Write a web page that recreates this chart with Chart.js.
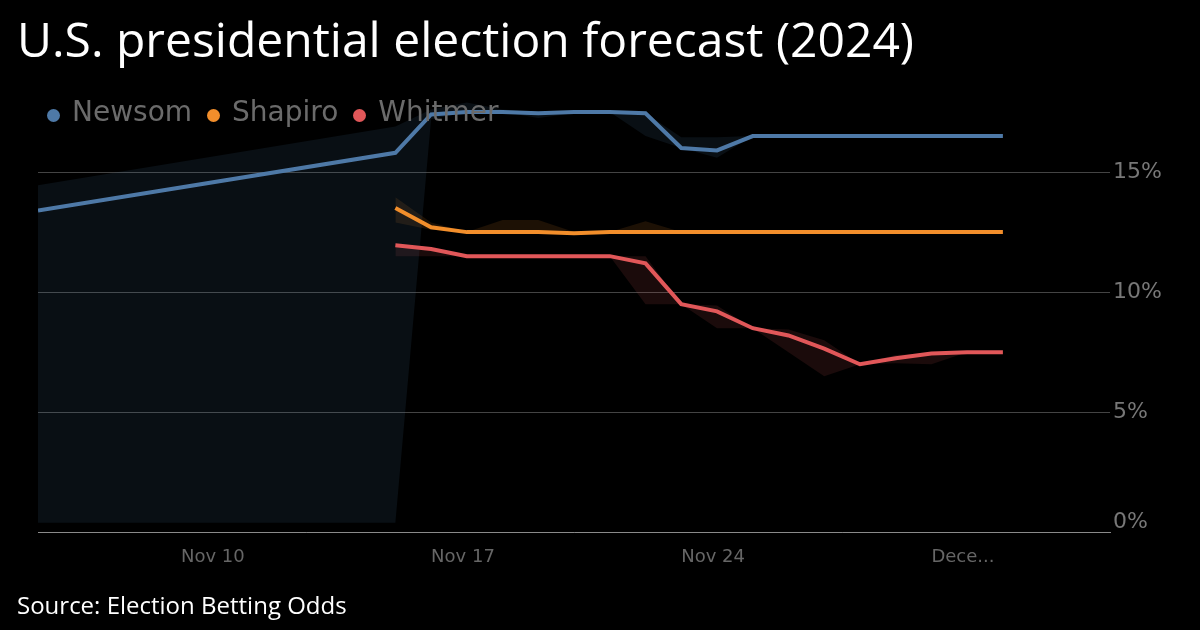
<!DOCTYPE html>
<html>
<head>
<meta charset="utf-8">
<script src="https://cdn.jsdelivr.net/npm/chart.js@4.4.1/dist/chart.umd.min.js"></script>
<style>
  html, body { margin: 0; padding: 0; background: #000; }
  body { width: 1200px; height: 630px; position: relative; overflow: hidden; }
  #chart-wrap { position: absolute; left: 0; top: 0; width: 1200px; height: 630px; }
  .title {
    position: absolute; left: 17px; top: 15px; margin: 0;
    font: 400 48px/1 "Open Sans", "Noto Sans", sans-serif; color: #fff; white-space: nowrap;
  }
  .source {
    position: absolute; left: 17px; top: 593px;
    font: 400 24px/1 "Open Sans", "Noto Sans", sans-serif; color: #fff; white-space: nowrap;
  }
  .legend {
    position: absolute; left: 47px; top: 98px; display: flex; gap: 15px;
    font: 400 28px/1 "DejaVu Sans", sans-serif; color: #6b6b6b; white-space: nowrap;
  }
  .legend__item { display: flex; align-items: center; }
  .legend__dot { width: 13px; height: 13px; border-radius: 50%; margin-right: 12px; position: relative; top: 3px; }
</style>
</head>
<body>
<div id="chart-wrap"><canvas id="chart" width="1200" height="630"></canvas></div>
<h1 class="title">U.S. presidential election forecast (2024)</h1>
<div class="legend" id="legend"></div>
<div class="source">Source: Election Betting Odds</div>
<script>
// x values are days counted from Nov 1 (Dec 1 = 31)
const NEWSOM_DAYS = [6, 16, 17, 18, 19, 20, 21, 22, 23, 24, 25, 26, 27, 28, 29, 30, 31, 32, 33];
const NEWSOM = [13.4, 15.8, 17.4, 17.5, 17.5, 17.45, 17.5, 17.5, 17.45, 16.0, 15.9, 16.5, 16.5, 16.5, 16.5, 16.5, 16.5, 16.5, 16.5];
const NEWSOM_HIGH = [14.45, 16.9, 17.6, 17.9, 17.6, 17.5, 17.5, 17.5, 17.45, 16.45, 16.45, 16.5, 16.5, 16.5, 16.5, 16.5, 16.5, 16.5, 16.5];
const NEWSOM_LOW = [0.4, 0.4, 17.2, 17.5, 17.5, 17.25, 17.45, 17.5, 16.5, 16.0, 15.6, 16.5, 16.5, 16.5, 16.5, 16.5, 16.5, 16.5, 16.5];

const OTHER_DAYS = [16, 17, 18, 19, 20, 21, 22, 23, 24, 25, 26, 27, 28, 29, 30, 31, 32, 33];
const SHAPIRO = [13.5, 12.7, 12.5, 12.5, 12.5, 12.45, 12.5, 12.5, 12.5, 12.5, 12.5, 12.5, 12.5, 12.5, 12.5, 12.5, 12.5, 12.5];
const SHAPIRO_HIGH = [13.95, 12.9, 12.5, 13.0, 13.0, 12.5, 12.5, 12.95, 12.5, 12.5, 12.5, 12.5, 12.5, 12.5, 12.5, 12.5, 12.5, 12.5];
const SHAPIRO_LOW = [12.9, 12.6, 12.5, 12.5, 12.5, 12.4, 12.45, 12.5, 12.5, 12.5, 12.5, 12.5, 12.5, 12.5, 12.5, 12.5, 12.5, 12.5];
const WHITMER = [11.95, 11.8, 11.5, 11.5, 11.5, 11.5, 11.5, 11.2, 9.5, 9.2, 8.5, 8.2, 7.65, 7.0, 7.25, 7.45, 7.5, 7.5];
const WHITMER_HIGH = [11.95, 11.8, 11.5, 11.5, 11.5, 11.5, 11.5, 11.5, 9.5, 9.45, 8.5, 8.45, 8.0, 7.0, 7.38, 7.46, 7.5, 7.5];
const WHITMER_LOW = [11.5, 11.5, 11.5, 11.5, 11.5, 11.45, 11.5, 9.5, 9.5, 8.5, 8.5, 7.5, 6.5, 7.0, 7.04, 7.0, 7.5, 7.5];

const X_TICKS = [10, 17, 24, 31];
const X_TICK_LABELS = ["Nov 10", "Nov 17", "Nov 24", "Dece..."];
const Y_TICKS = [0, 5, 10, 15];

const SERIES = [
  { name: "Newsom", color: "#4e79a7", band: "rgba(78, 121, 167, 0.12)", days: NEWSOM_DAYS, mid: NEWSOM, high: NEWSOM_HIGH, low: NEWSOM_LOW },
  { name: "Shapiro", color: "#f28e2b", band: "rgba(242, 142, 43, 0.12)", days: OTHER_DAYS, mid: SHAPIRO, high: SHAPIRO_HIGH, low: SHAPIRO_LOW },
  { name: "Whitmer", color: "#e15759", band: "rgba(225, 87, 89, 0.12)", days: OTHER_DAYS, mid: WHITMER, high: WHITMER_HIGH, low: WHITMER_LOW },
];

const points = (days, vals) => days.map((d, i) => ({ x: d, y: vals[i] }));

function buildDatasets() {
  const lines = SERIES.map((s) => ({
    label: s.name,
    data: points(s.days, s.mid),
    borderColor: s.color,
    borderWidth: 4,
    pointRadius: 0,
    tension: 0,
    fill: false,
    order: 0,
  }));
  const bands = [];
  SERIES.forEach((s) => {
    const upperIndex = lines.length + bands.length;
    bands.push({
      label: s.name + " high",
      data: points(s.days, s.high),
      borderWidth: 0,
      pointRadius: 0,
      fill: false,
      order: 1,
    });
    bands.push({
      label: s.name + " low",
      data: points(s.days, s.low),
      borderWidth: 0,
      pointRadius: 0,
      backgroundColor: s.band,
      fill: { target: upperIndex },
      order: 1,
    });
  });
  return lines.concat(bands);
}

function initLegend() {
  document.getElementById("legend").innerHTML = SERIES
    .map((s) => `<span class="legend__item"><span class="legend__dot" style="background:${s.color}"></span>${s.name}</span>`)
    .join("");
}

function initChart() {
  new Chart(document.getElementById("chart"), {
    type: "line",
    data: { datasets: buildDatasets() },
    options: {
      responsive: false,
      animation: false,
      layout: { padding: { left: 38, top: 100, right: 35, bottom: 48 } },
      plugins: {
        legend: { display: false },
        tooltip: { enabled: false },
        filler: { drawTime: "beforeDatasetsDraw" },
      },
      scales: {
        x: {
          type: "linear",
          min: 6,
          max: 36,
          afterBuildTicks: (scale) => { scale.ticks = X_TICKS.map((v) => ({ value: v })); },
          grid: { color: "transparent", drawTicks: false },
          border: { display: true, color: "#8a8a8a", width: 1 },
          ticks: {
            align: "start",
            autoSkip: false,
            maxRotation: 0,
            padding: 14,
            color: "#666",
            font: { family: "'DejaVu Sans', sans-serif", size: 18 },
            callback: (v) => X_TICK_LABELS[X_TICKS.indexOf(v)],
          },
        },
        y: {
          position: "right",
          min: 0,
          max: 18,
          afterBuildTicks: (scale) => { scale.ticks = Y_TICKS.map((v) => ({ value: v })); },
          grid: { color: "#444", drawTicks: false },
          border: { display: false },
          ticks: {
            padding: 3,
            color: "#777",
            font: { family: "'DejaVu Sans', sans-serif", size: 22, lineHeight: 0.91 },
            callback: (v) => (v === 0 ? ["0%", ""] : v + "%"),
          },
        },
      },
    },
  });
}

initLegend();
initChart();
</script>
</body>
</html>
